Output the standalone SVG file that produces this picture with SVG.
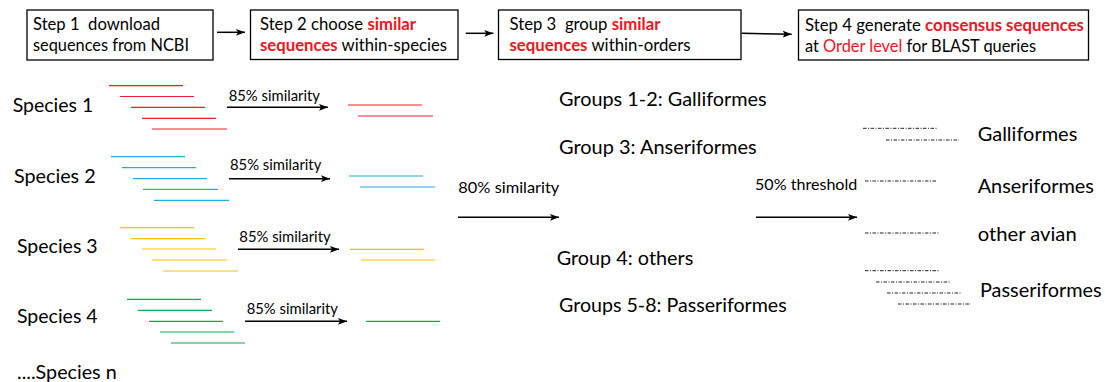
<svg xmlns="http://www.w3.org/2000/svg" width="1105" height="382" viewBox="0 0 1105 382">
<style>
text{font-family:Lato,"Open Sans","Liberation Sans",sans-serif;fill:#000}
.box{fill:#fff;stroke:#000;stroke-width:1.3}
.bt{font-size:17px}
.red{fill:#F0141E}
.b{font-weight:bold}
.sp{font-size:20px}
.sim{font-size:15px}
.grp{font-size:20px}
.arr{stroke:#000;stroke-width:1.5;fill:none;marker-end:url(#ah)}
.r{stroke:#F01E24;stroke-width:1.2}
.bl{stroke:#1EAEE6;stroke-width:1.2}
.y{stroke:#FFC000;stroke-width:1.2}
.g{stroke:#00B050;stroke-width:1.2}
.d{stroke:#222;stroke-width:1;stroke-dasharray:3.5 1.5 1 1.5}
</style>
<defs>
<marker id="ah" markerUnits="userSpaceOnUse" markerWidth="10" markerHeight="8" refX="9" refY="4" orient="auto">
<path d="M0,0.6 L9,4 L0,7.4 L2,4 Z" fill="#000"/>
</marker>
</defs>

<g id="step1">
<rect class="box" x="27" y="10" width="186" height="50"/>
<text class="bt" x="33" y="30" textLength="127" lengthAdjust="spacingAndGlyphs" xml:space="preserve">Step 1  download</text>
<text class="bt" x="33" y="50.5" textLength="156" lengthAdjust="spacingAndGlyphs">sequences from NCBI</text>
</g>
<g id="step2">
<rect class="box" x="250.5" y="10" width="207.5" height="49.5"/>
<text class="bt" x="260" y="30" textLength="156" lengthAdjust="spacingAndGlyphs">Step 2 choose <tspan class="red b">similar</tspan></text>
<text class="bt" x="260" y="50.5" textLength="187" lengthAdjust="spacingAndGlyphs"><tspan class="red b">sequences</tspan> within-species</text>
</g>
<g id="step3">
<rect class="box" x="498.5" y="10" width="242.5" height="49.5"/>
<text class="bt" x="509.5" y="30" textLength="151" lengthAdjust="spacingAndGlyphs" xml:space="preserve">Step 3  group <tspan class="red b">similar</tspan></text>
<text class="bt" x="509.5" y="51" textLength="181" lengthAdjust="spacingAndGlyphs"><tspan class="red b">sequences</tspan> within-orders</text>
</g>
<g id="step4">
<rect class="box" x="798.5" y="10" width="290" height="50"/>
<text class="bt" x="805" y="30.5" textLength="279" lengthAdjust="spacingAndGlyphs">Step 4 generate <tspan class="red b">consensus sequences</tspan></text>
<text class="bt" x="805" y="51.5" textLength="231" lengthAdjust="spacingAndGlyphs">at <tspan class="red">Order level</tspan> for BLAST queries</text>
</g>

<g id="species1">
<text class="sp" x="12.7" y="111.5" textLength="80.6" lengthAdjust="spacingAndGlyphs">Species 1</text>
<line class="r" x1="109" y1="85.7" x2="183" y2="85.7"/>
<line class="r" x1="120" y1="96.5" x2="194" y2="96.5"/>
<line class="r" x1="131" y1="107.3" x2="205" y2="107.3"/>
<line class="r" x1="142" y1="118.3" x2="216" y2="118.3"/>
<line class="r" x1="152" y1="129" x2="227" y2="129"/>
</g>
<g id="out1">
<line class="r" x1="348" y1="105" x2="422" y2="105"/>
<line class="r" x1="358" y1="116" x2="433" y2="116"/>
</g>
<g id="species2">
<text class="sp" x="14" y="183.3" textLength="81.7" lengthAdjust="spacingAndGlyphs">Species 2</text>
<line class="bl" x1="111" y1="156.7" x2="185" y2="156.7"/>
<line class="bl" x1="122" y1="167.7" x2="196" y2="167.7"/>
<line class="bl" x1="133" y1="178.7" x2="207" y2="178.7"/>
<line class="bl" x1="143" y1="189.3" x2="218" y2="189.3"/>
<line class="bl" x1="154" y1="200.3" x2="229" y2="200.3"/>
</g>
<g id="out2">
<line class="bl" x1="349" y1="176" x2="423" y2="176"/>
<line class="bl" x1="360" y1="187" x2="435" y2="187"/>
</g>
<g id="species3">
<text class="sp" x="17" y="253.3" textLength="80.7" lengthAdjust="spacingAndGlyphs">Species 3</text>
<line class="y" x1="120" y1="227.7" x2="194" y2="227.7"/>
<line class="y" x1="131" y1="238.7" x2="205" y2="238.7"/>
<line class="y" x1="142" y1="249" x2="216" y2="249"/>
<line class="y" x1="152" y1="260" x2="227" y2="260"/>
<line class="y" x1="163" y1="271" x2="238" y2="271"/>
</g>
<g id="out3">
<line class="y" x1="350" y1="249.3" x2="424" y2="249.3"/>
<line class="y" x1="361" y1="260" x2="435" y2="260"/>
</g>
<g id="species4">
<text class="sp" x="17" y="323.3" textLength="80.7" lengthAdjust="spacingAndGlyphs">Species 4</text>
<line class="g" x1="127" y1="299.3" x2="201" y2="299.3"/>
<line class="g" x1="138" y1="310.3" x2="212" y2="310.3"/>
<line class="g" x1="149" y1="321.3" x2="223" y2="321.3"/>
<line class="g" x1="160" y1="332" x2="234" y2="332"/>
<line class="g" x1="171" y1="343" x2="245" y2="343"/>
</g>
<g id="out4">
<line class="g" x1="366" y1="321.3" x2="440" y2="321.3"/>
</g>
<g id="speciesn">
<text class="sp" x="17" y="379" textLength="99.7" lengthAdjust="spacingAndGlyphs">....Species n</text>
</g>

<g id="groups">
<text class="grp" x="559" y="105.7" textLength="207.7" lengthAdjust="spacingAndGlyphs">Groups 1-2: Galliformes</text>
<text class="grp" x="559" y="154" textLength="197.7" lengthAdjust="spacingAndGlyphs">Group 3: Anseriformes</text>
<text class="grp" x="556.7" y="265" textLength="136.6" lengthAdjust="spacingAndGlyphs">Group 4: others</text>
<text class="grp" x="559" y="311.7" textLength="227.7" lengthAdjust="spacingAndGlyphs">Groups 5-8: Passeriformes</text>
</g>

<g id="consensus">
<line class="d" x1="863" y1="128.3" x2="937" y2="128.3"/>
<line class="d" x1="886" y1="140" x2="959" y2="140"/>
<line class="d" x1="865" y1="181" x2="937" y2="181"/>
<line class="d" x1="865" y1="233" x2="939" y2="233"/>
<line class="d" x1="865" y1="270.7" x2="939" y2="270.7"/>
<line class="d" x1="876" y1="282" x2="950" y2="282"/>
<line class="d" x1="887" y1="293" x2="961" y2="293"/>
<line class="d" x1="898" y1="304" x2="971" y2="304"/>
</g>
<g id="orders">
<text class="grp" x="977.7" y="141" textLength="99.6" lengthAdjust="spacingAndGlyphs">Galliformes</text>
<text class="grp" x="977.7" y="193.3" textLength="116.3" lengthAdjust="spacingAndGlyphs">Anseriformes</text>
<text class="grp" x="977.7" y="241" textLength="99" lengthAdjust="spacingAndGlyphs">other avian</text>
<text class="grp" x="980" y="297.3" textLength="121.7" lengthAdjust="spacingAndGlyphs">Passeriformes</text>
</g>

<g id="connectors">
<line class="arr" x1="217" y1="32.3" x2="245" y2="32.3"/>
<line class="arr" x1="465.7" y1="33.3" x2="493.3" y2="33.3"/>
<line class="arr" x1="741.7" y1="33.3" x2="791.7" y2="34.3"/>
<line class="arr" x1="227" y1="107.3" x2="328" y2="107.3"/>
<line class="arr" x1="229" y1="178.7" x2="330" y2="178.7"/>
<line class="arr" x1="238" y1="249.3" x2="339" y2="249.3"/>
<line class="arr" x1="245" y1="321.3" x2="347" y2="321.3"/>
<line class="arr" x1="458" y1="217.3" x2="559" y2="217.3"/>
<line class="arr" x1="756" y1="217.3" x2="857" y2="217.3"/>
<text class="sim" x="228.7" y="100.7" textLength="91.3" lengthAdjust="spacingAndGlyphs">85% similarity</text>
<text class="sim" x="230" y="170" textLength="91.3" lengthAdjust="spacingAndGlyphs">85% similarity</text>
<text class="sim" x="239.3" y="242.3" textLength="91.3" lengthAdjust="spacingAndGlyphs">85% similarity</text>
<text class="sim" x="246.7" y="314" textLength="91.3" lengthAdjust="spacingAndGlyphs">85% similarity</text>
<text class="sim" x="458.3" y="193.3" textLength="101" lengthAdjust="spacingAndGlyphs">80% similarity</text>
<text class="sim" x="755" y="190" textLength="102.3" lengthAdjust="spacingAndGlyphs">50% threshold</text>
</g>
</svg>
